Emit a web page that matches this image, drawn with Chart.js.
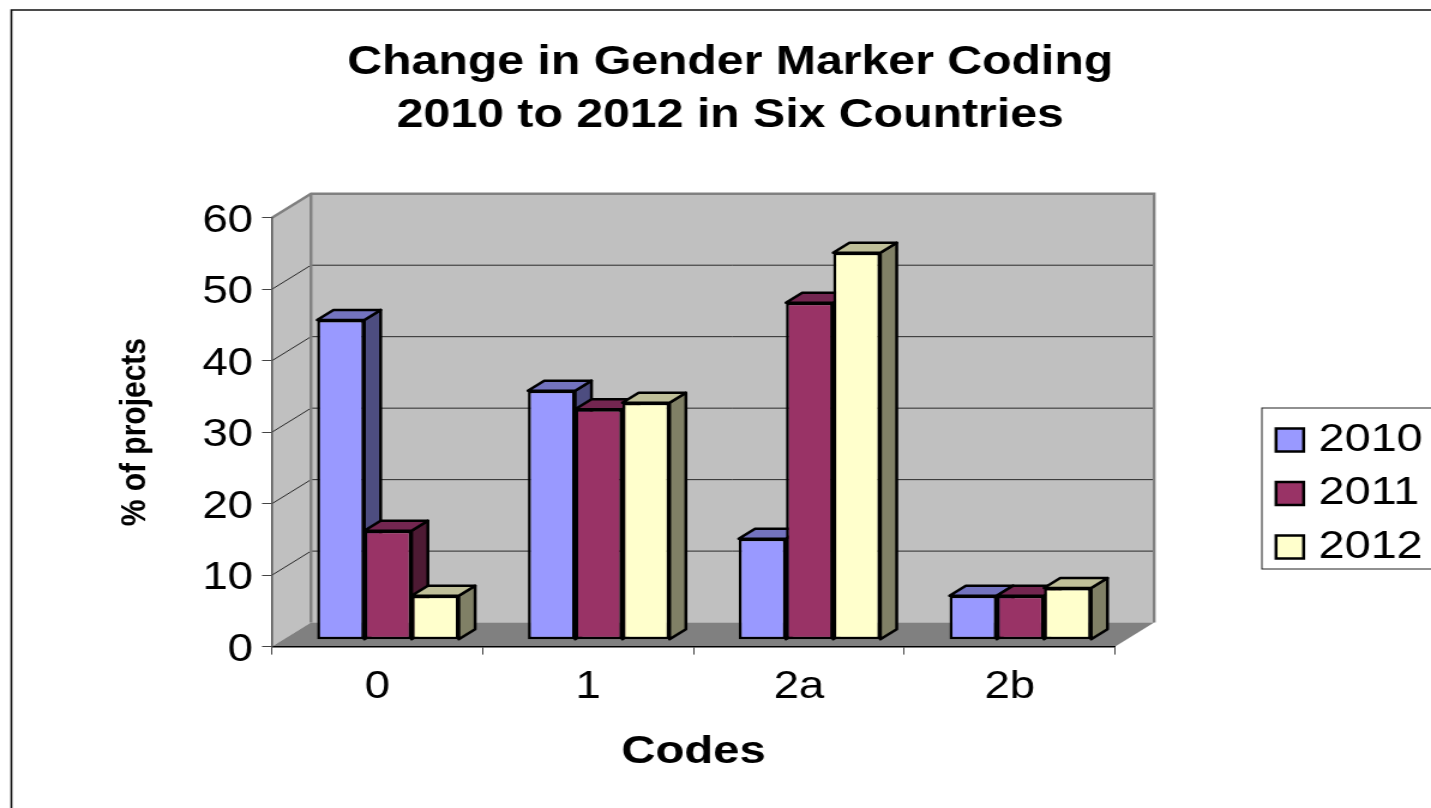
<!DOCTYPE html>
<html>
<head>
<meta charset="utf-8">
<title>Change in Gender Marker Coding</title>
<script src="https://cdn.jsdelivr.net/npm/chart.js@4"></script>
<style>
  html, body { margin: 0; padding: 0; background: #fff; overflow: hidden; }
  /* the whole picture is stretched sideways, so draw narrow and scale the canvas */
  #chart { display: block; transform-origin: 0 0; transform: scaleX(1.1995); }
</style>
</head>
<body>
<canvas id="chart" width="1193" height="808"></canvas>
<script>
const categories = ['0', '1', '2a', '2b'];
const seriesNames = ['2010', '2011', '2012'];
const values2010 = [44.5, 34.6, 13.9, 5.9];
const values2011 = [15, 32, 46.9, 5.9];
const values2012 = [5.9, 32.9, 53.9, 7];
const titleLines = ['Change in Gender Marker Coding', '2010 to 2012 in Six Countries'];

const frontColors = ['#9999FF', '#993366', '#FFFFCC'];
const sideColors = ['#4D4D80', '#4D1A33', '#808066'];
const topColors = ['#7373BF', '#732650', '#BFBF99'];

const FONT = '"Liberation Sans", Arial, sans-serif';
const K = 1431 / 1193;
// depth of the box and of the bars, canvas px
const BOX_DX = 32.5, BOX_DY = -24;
const BAR_DX = 13.6, BAR_DY = -10;
const BAR_SHIFT_X = 8.8, BAR_SHIFT_Y = -8.6;

function poly(ctx, pts, fill, stroke, lw) {
  ctx.beginPath();
  pts.forEach((p, i) => i ? ctx.lineTo(p[0], p[1]) : ctx.moveTo(p[0], p[1]));
  ctx.closePath();
  if (fill) { ctx.fillStyle = fill; ctx.fill(); }
  if (stroke) { ctx.strokeStyle = stroke; ctx.lineWidth = lw; ctx.lineJoin = 'round'; ctx.stroke(); }
}

const box3d = {
  id: 'box3d',
  beforeLayout(chart) {
    // fixed width for the legend column, it is placed by hand after layout
    const legend = chart.legend;
    if (!legend._fitWrapped) {
      const fit = legend.fit;
      legend.fit = function () { fit.call(this); this.width = 263.3; };
      legend._fitWrapped = true;
    }
  },
  afterLayout(chart) {
    const legend = chart.legend;
    legend.left = 1056.3; legend.right = 1193; legend.top = 406; legend.bottom = 600;
    chart.titleBlock.left = 24.6; chart.titleBlock.right = 1193;
  },
  beforeDraw(chart) {
    const { ctx, scales: { x, y } } = chart;
    const l = x.left, r = x.right, t = y.top, b = y.bottom;
    ctx.save();
    ctx.fillStyle = '#fff';
    ctx.fillRect(0, 0, chart.width, chart.height);

    // outer frame, only top and left show
    ctx.strokeStyle = '#111'; ctx.lineWidth = 1.6;
    ctx.beginPath(); ctx.moveTo(9.5, 808); ctx.lineTo(9.5, 10); ctx.lineTo(1193, 10); ctx.stroke();

    // legend frame
    ctx.strokeStyle = '#222'; ctx.lineWidth = 1;
    ctx.strokeRect(1052, 408, 160, 161);

    // walls and floor
    poly(ctx, [[l, t], [l + BOX_DX, t + BOX_DY], [l + BOX_DX, b + BOX_DY], [l, b]], '#C0C0C0');
    poly(ctx, [[l + BOX_DX, t + BOX_DY], [r + BOX_DX, t + BOX_DY], [r + BOX_DX, b + BOX_DY], [l + BOX_DX, b + BOX_DY]], '#C0C0C0');
    poly(ctx, [[l, b], [l + BOX_DX, b + BOX_DY], [r + BOX_DX, b + BOX_DY], [r, b]], '#808080');

    // gridlines run along the back wall and down the side wall
    y.ticks.forEach(tick => {
      if (tick.value === 0 || tick.value === 60) return;
      const py = y.getPixelForValue(tick.value);
      ctx.strokeStyle = '#2a2a2a'; ctx.lineWidth = 1;
      ctx.beginPath();
      ctx.moveTo(l, py);
      ctx.lineTo(l + BOX_DX, py + BOX_DY);
      ctx.lineTo(r + BOX_DX, py + BOX_DY);
      ctx.stroke();
    });

    // wall edges
    ctx.strokeStyle = '#808080'; ctx.lineWidth = 2.4;
    ctx.beginPath();
    ctx.moveTo(l, t);
    ctx.lineTo(l + BOX_DX, t + BOX_DY);
    ctx.lineTo(r + BOX_DX, t + BOX_DY);
    ctx.lineTo(r + BOX_DX, b + BOX_DY);
    ctx.moveTo(l + BOX_DX, t + BOX_DY);
    ctx.lineTo(l + BOX_DX, b + BOX_DY);
    ctx.stroke();
    ctx.restore();
  },
  beforeDatasetsDraw(chart) {
    // bars go left to right so each front hides the neighbour's side
    const ctx = chart.ctx;
    ctx.save();
    ctx.translate(BAR_SHIFT_X, BAR_SHIFT_Y);
    chart.data.datasets.forEach((ds, i) => {
      const meta = chart.getDatasetMeta(i);
      meta.data.forEach(bar => {
        const p = bar.getProps(['x', 'y', 'base', 'width'], true);
        const x0 = p.x - p.width / 2, x1 = p.x + p.width / 2;
        poly(ctx, [[x1, p.y], [x1 + BAR_DX, p.y + BAR_DY], [x1 + BAR_DX, p.base + BAR_DY], [x1, p.base]], sideColors[i], '#000', 2.5);
        poly(ctx, [[x0, p.y], [x0 + BAR_DX, p.y + BAR_DY], [x1 + BAR_DX, p.y + BAR_DY], [x1, p.y]], topColors[i], '#000', 2.5);
      });
      meta.controller.draw();
    });
    ctx.restore();
    return false;
  }
};

const datasets = [values2010, values2011, values2012].map((data, i) => ({
  label: seriesNames[i],
  data: data,
  base: -0.18,
  backgroundColor: frontColors[i],
  borderColor: '#000',
  borderWidth: 2.5,
  borderSkipped: false,
  categoryPercentage: 0.672,
  barPercentage: 1
}));

new Chart(document.getElementById('chart'), {
  type: 'bar',
  data: { labels: categories, datasets: datasets },
  plugins: [box3d],
  options: {
    responsive: false,
    animation: false,
    events: [],
    devicePixelRatio: 1,
    layout: { padding: 0 },
    plugins: {
      tooltip: { enabled: false },
      title: {
        display: true,
        text: titleLines,
        color: '#000',
        font: { family: FONT, size: 40.2, weight: 'bold', lineHeight: 1.31 },
        padding: { top: 36.5, bottom: 75.9 }
      },
      legend: {
        display: true,
        position: 'right',
        align: 'start',
        onClick: null,
        labels: {
          usePointStyle: true,
          pointStyle: 'rect',
          boxWidth: 9,
          boxHeight: 23,
          padding: 14.5,
          color: '#000',
          font: { family: FONT, size: 39 }
        }
      }
    },
    scales: {
      x: {
        afterFit(s) { s.height = 808 - 646.6; },
        border: { color: '#000', width: 1.5 },
        grid: { display: true, drawOnChartArea: false, drawTicks: true, tickLength: 8, color: '#444', offset: true },
        ticks: { color: '#000', font: { family: FONT, size: 38 }, padding: 10, maxRotation: 0 },
        title: { display: true, text: 'Codes', color: '#000', font: { family: FONT, size: 39.4, weight: 'bold' }, padding: { top: 0, bottom: 32 } }
      },
      y: {
        min: 0,
        max: 60,
        afterFit(s) { s.width = 272 / K; },
        border: { color: '#555', width: 1.5 },
        grid: { display: true, drawOnChartArea: false, drawTicks: true, tickLength: 8.3, color: '#444' },
        ticks: { stepSize: 10, color: '#000', font: { family: FONT, size: 38 }, padding: 7.5, labelOffset: 3.5 },
        title: { display: true, text: '% of projects', color: '#000', font: { family: FONT, size: 30, weight: 'bold' }, padding: { top: 95, bottom: 0 } }
      }
    }
  }
});
</script>
</body>
</html>
